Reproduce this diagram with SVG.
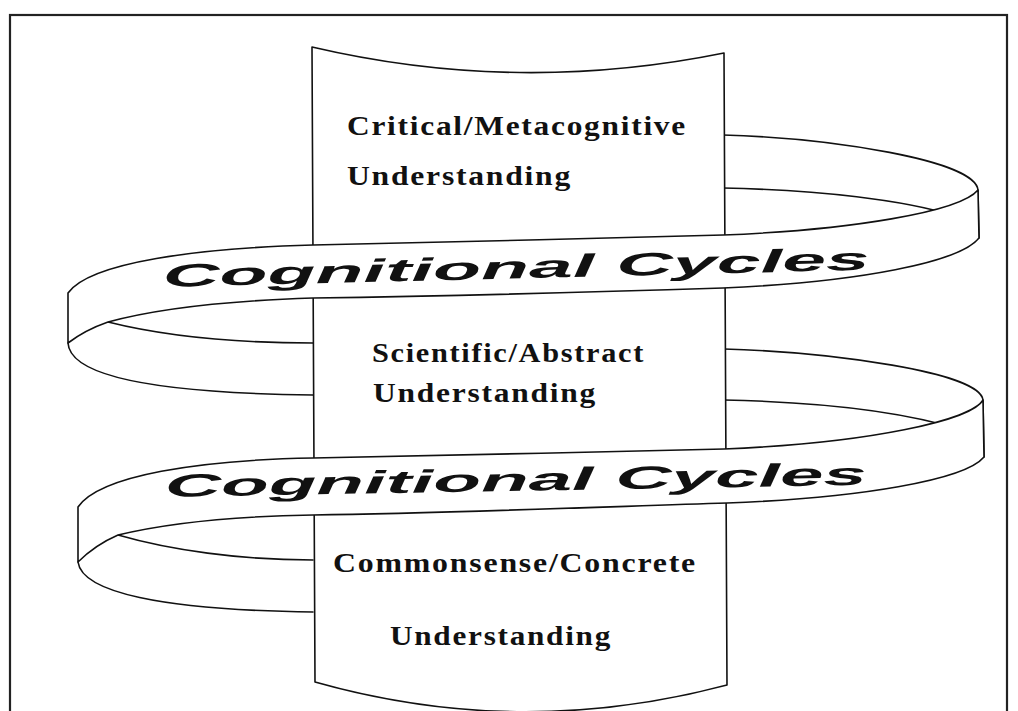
<svg xmlns="http://www.w3.org/2000/svg" width="1018" height="711" viewBox="0 0 1018 711">
  <style>
    .ln { fill: none; stroke: #111; stroke-width: 1.6; stroke-linejoin: round; stroke-linecap: round; }
    .band { fill: #fff; stroke: #111; stroke-width: 1.6; stroke-linejoin: round; }
    .col { fill: #fff; stroke: #111; stroke-width: 1.6; stroke-linejoin: round; }
    .lvl { font-family: "Liberation Serif", "Times New Roman", serif; font-weight: bold; font-size: 27px; letter-spacing: 1.5px; fill: #111; }
    .cyc { font-family: "Liberation Sans", Arial, sans-serif; font-weight: bold; font-style: italic; font-size: 32px; fill: #111; }
  </style>
  <rect width="1018" height="711" fill="#fff"/>
  <!-- outer frame -->
  <rect x="10" y="15" width="997" height="720" fill="none" stroke="#222" stroke-width="2.2"/>

  <!-- parts of the band that run behind the column -->
  <g id="band-back">
    <path class="ln" d="M723,135 C830,138 975,160 978,190 L979,238"/>
    <path class="ln" d="M723,188 C820,190 905,200 955,216"/>
    <path class="ln" d="M108,322 C160,335 230,343 313,343"/>
    <path class="ln" d="M68,343 C70,375 150,393 313,395"/>
    <path class="ln" d="M724,349 C830,352 980,372 983,400 L984,457"/>
    <path class="ln" d="M724,400 C820,402 905,412 962,430"/>
    <path class="ln" d="M118,535 C170,550 240,560 313,560"/>
    <path class="ln" d="M78,562 C82,592 160,610 313,612"/>
  </g>

  <!-- the column of levels -->
  <g id="column">
    <path class="col" d="M312,47 Q517,95 724,53 L727,685 Q520,740 315,682 Z"/>
  </g>
  <g id="level-critical">
    <text class="lvl" x="347" y="135" textLength="340" lengthAdjust="spacingAndGlyphs">Critical/Metacognitive</text>
    <text class="lvl" x="347" y="185" textLength="225" lengthAdjust="spacingAndGlyphs">Understanding</text>
  </g>
  <g id="level-scientific">
    <text class="lvl" x="372" y="362" textLength="273" lengthAdjust="spacingAndGlyphs">Scientific/Abstract</text>
    <text class="lvl" x="373" y="402" textLength="224" lengthAdjust="spacingAndGlyphs">Understanding</text>
  </g>
  <g id="level-commonsense">
    <text class="lvl" x="333" y="572" textLength="364" lengthAdjust="spacingAndGlyphs">Commonsense/Concrete</text>
    <text class="lvl" x="390" y="645" textLength="222" lengthAdjust="spacingAndGlyphs">Understanding</text>
  </g>

  <!-- front turns of the band, passing in front of the column -->
  <g id="cycle-upper">
    <path class="band" d="M978,190 C960,212 850,230 723,235 C600,239 420,242 313,245 C200,248 90,262 68,293 L68,343 Q85,330 108,322 C170,305 250,300 313,298 C450,296 600,292 723,288 C860,282 960,262 979,238 Z"/>
    <text class="cyc" x="163" y="287" textLength="707" lengthAdjust="spacingAndGlyphs" transform="rotate(-1.4 163 287)">Cognitional Cycles</text>
  </g>
  <g id="cycle-lower">
    <path class="band" d="M983,400 C972,420 870,443 724,449 C600,452 420,456 313,458 C200,460 100,475 78,507 L78,562 Q95,545 118,535 C180,520 250,516 313,515 C450,513 600,507 727,503 C860,498 965,480 984,457 Z"/>
    <text class="cyc" x="165" y="497" textLength="702" lengthAdjust="spacingAndGlyphs" transform="rotate(-1.0 165 497)">Cognitional Cycles</text>
  </g>
</svg>
